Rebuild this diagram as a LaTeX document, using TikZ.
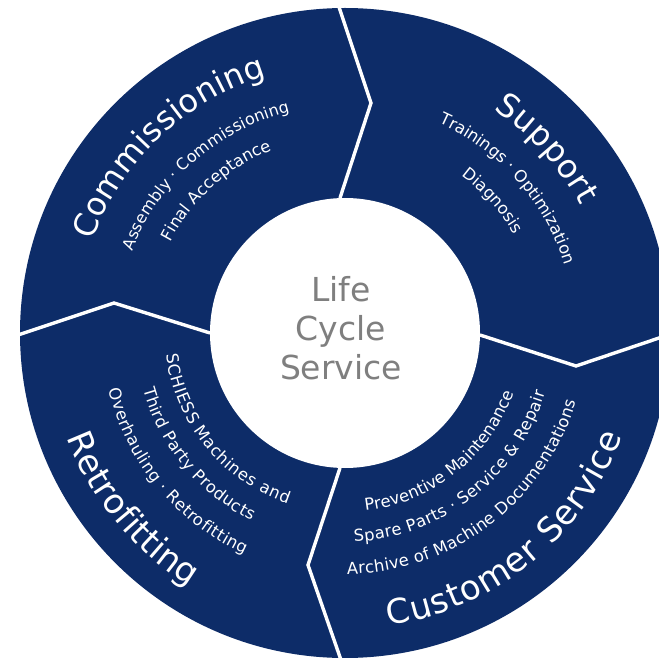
\documentclass[tikz,border=0pt]{standalone}
\usepackage{fontspec}
\setmainfont{DejaVu Sans}
\usetikzlibrary{decorations.text}
\definecolor{navy}{HTML}{0D2C68}
\definecolor{midgrey}{HTML}{7F7F7F}
\tikzset{
  divider/.style={draw=white,line width=3.4pt,line join=miter},
  hub/.style={circle,fill=white,minimum size=270pt,inner sep=0pt},
  hubtext/.style={align=center,text=midgrey,font=\fontsize{33}{39}\selectfont}
}
\newcommand{\arctext}[5]{% radius, start angle, end angle, size, text
  \path[decorate,decoration={text along path,text align={fit to path},
    text={|\fontsize{#4}{#4}\selectfont\color{white}|#5}}]
    ([shift={(345,324)}]#2:#1) arc[start angle=#2,end angle=#3,radius=#1];}
\begin{document}
\begin{tikzpicture}[x=1pt,y=1pt]
\useasboundingbox (0,0) rectangle (659,657);
\clip (0,0) rectangle (659,657);
\fill[white] (0,0) rectangle (659,657);
\coordinate (c) at (345,324);
\fill[navy] (c) circle[radius=325];
% dividers
\coordinate (t1) at (339,650); \coordinate (t2) at (371,554); \coordinate (t3) at (340,459);
\coordinate (r1) at (480,322); \coordinate (r2) at (576,291); \coordinate (r3) at (662,320);
\coordinate (b1) at (340,189); \coordinate (b2) at (308,92);  \coordinate (b3) at (341,-3);
\coordinate (l1) at (18,322);  \coordinate (l2) at (114,354); \coordinate (l3) at (210,324);
\draw[divider] (t1) -- (t2) -- (t3);
\draw[divider] (r1) -- (r2) -- (r3);
\draw[divider] (b1) -- (b2) -- (b3);
\draw[divider] (l1) -- (l2) -- (l3);
\node[hub] (hub) at (c) {};
\node[hubtext] (hublabel) at (341,328.5) {Life\\Cycle\\Service};
% Commissioning
\arctext{269}{160}{107}{32}{Commissioning}
\arctext{228}{159}{104}{16}{Assembly · Commissioning}
\arctext{197}{152.5}{112}{16.4}{Final Acceptance}
% Support
\arctext{268}{56.5}{28.5}{32.5}{Support}
\arctext{230}{66}{17.5}{16.4}{Trainings · Optimization}
\arctext{196}{53.5}{30.5}{16.4}{Diagnosis}
% Customer Service
\arctext{296}{-81.5}{-20.5}{34}{Customer Service}
\arctext{179}{-83.5}{-19.5}{16.4}{Preventive Maintenance}
\arctext{209}{-87.5}{-16.5}{16.4}{Spare Parts · Service {\&} Repair}
\arctext{241}{-89.5}{-16.5}{16.4}{Archive of Machine Documentations}
% Retrofitting
\arctext{297}{-159.5}{-121.5}{34}{Retrofitting}
\arctext{180}{-173}{-108.5}{16.4}{SCHIESS Machines and}
\arctext{209.5}{-164.5}{-116.5}{16.4}{Third Party Products}
\arctext{243}{-166.5}{-114.5}{16.4}{Overhauling · Retrofitting}
\end{tikzpicture}
\end{document}
